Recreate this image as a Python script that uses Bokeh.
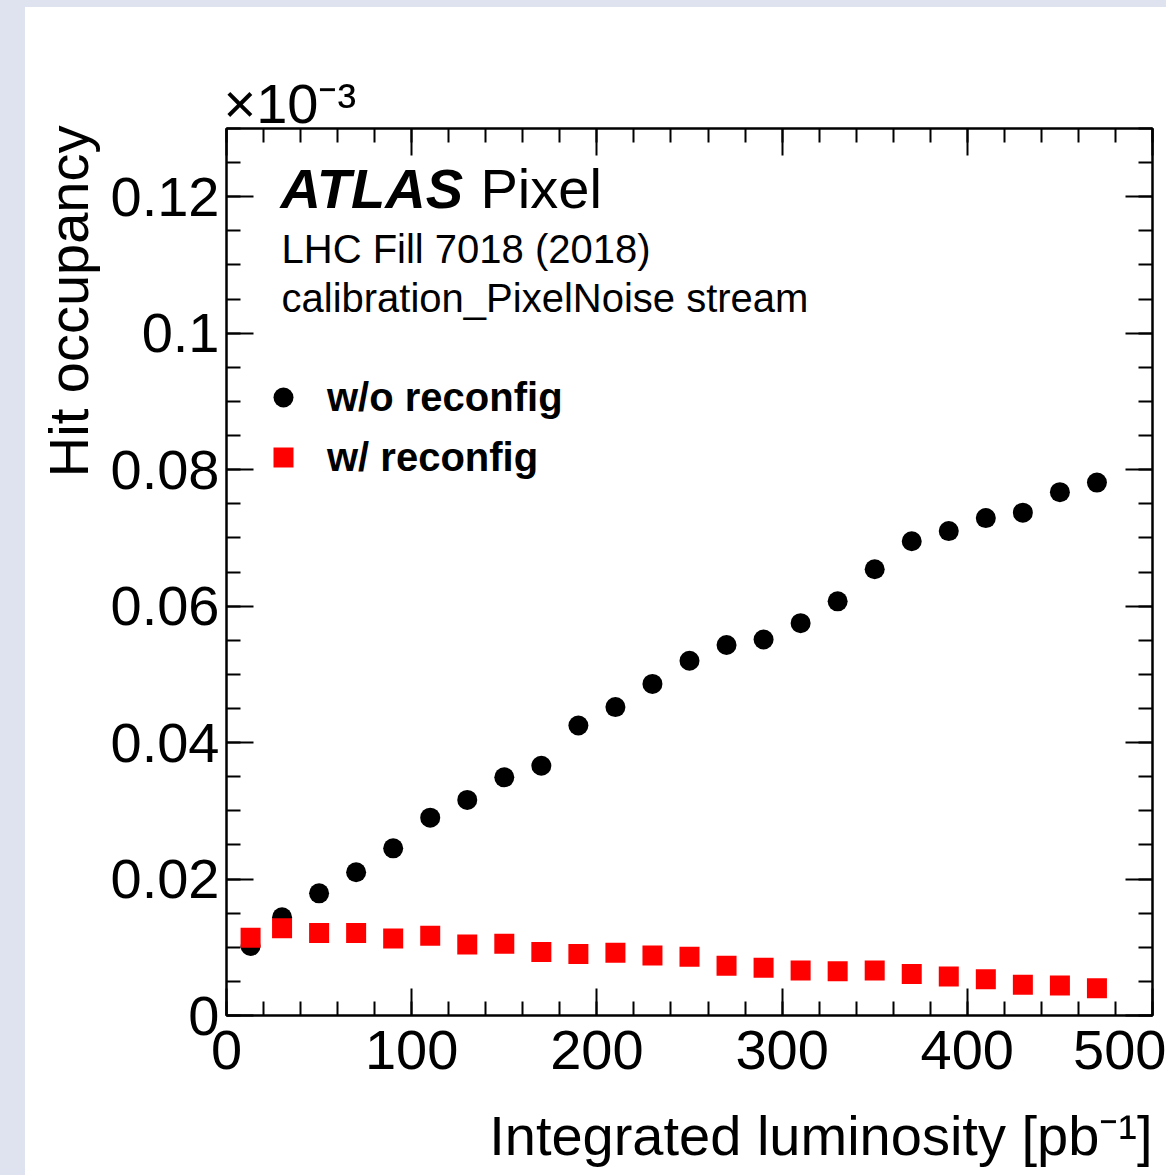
from bokeh.plotting import figure
from bokeh.models import (FixedTicker, LinearAxis, Label, Legend, LegendItem, Div,
                          Range1d, Title)
from bokeh.layouts import row, column
from bokeh.embed import file_html
from bokeh.resources import INLINE

# ---------------- data ----------------
lumi = [13, 30, 50, 70, 90, 110, 130, 150, 170, 190, 210, 230,
        250, 270, 290, 310, 330, 350, 370, 390, 410, 430, 450, 470]
occ_without_reconfig = [0.0102, 0.0144, 0.0179, 0.0210, 0.0245, 0.0290, 0.0316, 0.0349,
                        0.0366, 0.0425, 0.0452, 0.0486, 0.0520, 0.0543, 0.0551, 0.0575,
                        0.0607, 0.0654, 0.0695, 0.0710, 0.0729, 0.0737, 0.0767, 0.0781]
occ_with_reconfig = [0.0114, 0.0128, 0.0121, 0.0121, 0.0113, 0.0117, 0.0104, 0.0105,
                     0.0093, 0.0090, 0.0092, 0.0088, 0.0086, 0.0073, 0.0070, 0.0066,
                     0.0065, 0.0066, 0.0061, 0.0057, 0.0053, 0.0045, 0.0044, 0.0040]
series_names = ["w/o reconfig", "w/ reconfig"]

x_major = [0, 100, 200, 300, 400, 500]
x_minor = [v for v in range(0, 501, 20)]
y_major = [0, 0.02, 0.04, 0.06, 0.08, 0.10, 0.12]
y_major_labels = ["0", "0.02", "0.04", "0.06", "0.08", "0.1", "0.12"]
y_minor = [round(i * 0.005, 3) for i in range(27)]

x_title = "Integrated luminosity [pb\u207b\u00b9]"
y_title = "Hit occupancy"
y_scale_note = "\u00d710\u207b\u00b3"

FONT = "Liberation Sans"
BIG = "56px"
MID = "40px"
STRIP = "#dfe3ef"

p = figure(width=1141, height=1168,
           x_range=Range1d(0, 500), y_range=Range1d(0, 0.13),
           output_backend="svg", toolbar_location=None,
           min_border_left=201, min_border_right=14,
           min_border_top=121, min_border_bottom=160,
           background_fill_color="white", border_fill_color="white")
p.outline_line_color = "black"
p.outline_line_width = 2
p.xgrid.visible = False
p.ygrid.visible = False

p.add_layout(LinearAxis(), "above")
p.add_layout(LinearAxis(), "right")

for ax in p.xaxis:
    ax.ticker = FixedTicker(ticks=x_major, minor_ticks=x_minor)
for ax in p.yaxis:
    ax.ticker = FixedTicker(ticks=y_major, minor_ticks=y_minor)

for ax in list(p.xaxis) + list(p.yaxis):
    ax.axis_line_color = "black"
    ax.axis_line_width = 2
    ax.major_tick_line_color = "black"
    ax.major_tick_line_width = 2
    ax.minor_tick_line_color = "black"
    ax.minor_tick_line_width = 2
    ax.major_tick_in = 27
    ax.major_tick_out = 0
    ax.minor_tick_in = 14
    ax.minor_tick_out = 0
    ax.major_label_text_font = FONT
    ax.major_label_text_font_size = BIG
    ax.major_label_text_color = "black"

xb = p.below[0]
yl = p.left[0]
xb.major_label_standoff = 15
yl.major_label_standoff = 7
yl.major_label_overrides = dict(zip(y_major, y_major_labels))
for ax in (p.above[0], p.right[0]):
    ax.major_label_text_font_size = "1px"
    ax.major_label_text_color = None
    ax.major_label_standoff = 0

# axis titles (right / top aligned, ROOT style)
p.add_layout(Title(text=y_title, align="right", vertical_align="bottom",
                   offset=-3, standoff=16, text_font=FONT, text_font_size=BIG,
                   text_font_style="normal", text_color="black"), "left")

# invisible guide that only reserves vertical room under the tick labels
spacer_axis = LinearAxis(ticker=FixedTicker(ticks=x_major, minor_ticks=[]),
                         axis_line_color=None, major_tick_line_color=None,
                         minor_tick_line_color=None, major_tick_in=0,
                         major_tick_out=30, minor_tick_in=0, minor_tick_out=0,
                         major_label_text_font_size="1px",
                         major_label_text_color=None, major_label_standoff=0)
x_title_obj = Title(text=x_title, align="right", vertical_align="bottom",
                    offset=0, standoff=0, text_font=FONT, text_font_size=BIG,
                    text_font_style="normal", text_color="black")
p.below = [xb, spacer_axis, x_title_obj]

p.title.text = y_scale_note
p.title.align = "left"
p.title.vertical_align = "bottom"
p.title.offset = -3
p.title.standoff = -12
p.title.text_font = FONT
p.title.text_font_size = BIG
p.title.text_font_style = "normal"
p.title.text_color = "black"

# ---------------- data markers ----------------
r_without = p.scatter(lumi, occ_without_reconfig, marker="circle", size=20,
                      fill_color="black", line_color=None)
r_with = p.scatter(lumi, occ_with_reconfig, marker="square", size=20,
                   fill_color="#ff0000", line_color=None)

legend = Legend(items=[LegendItem(label=series_names[0], renderers=[r_without]),
                       LegendItem(label=series_names[1], renderers=[r_with])],
                location=(32, 533), glyph_width=50, glyph_height=50,
                label_standoff=19, spacing=10, padding=0, margin=0,
                border_line_color=None, background_fill_alpha=0,
                label_text_font=FONT, label_text_font_size=MID,
                label_text_font_style="bold", label_text_color="black")
p.add_layout(legend)

# ---------------- in-frame texts ----------------
def add_text(text, dx, dy, size, style="normal"):
    p.add_layout(Label(x=0, y=0.13, x_offset=dx, y_offset=dy, text=text,
                       text_font=FONT, text_font_size=size, text_font_style=style,
                       text_color="black", text_baseline="alphabetic",
                       text_align="left"))

add_text("ATLAS", 54, -60, BIG, "bold italic")
add_text("Pixel", 254, -60, BIG)
add_text("LHC Fill 7018 (2018)", 55, -120, MID)
add_text("calibration_PixelNoise stream", 55, -169, MID)

left_strip = Div(text="", width=25, height=1175, margin=0,
                 styles={"background-color": STRIP})
top_strip = Div(text="", width=1141, height=7, margin=0,
                styles={"background-color": STRIP})
layout = row(left_strip, column(top_strip, p, spacing=0), spacing=0)

open("out.html", "w").write(file_html(layout, INLINE))
